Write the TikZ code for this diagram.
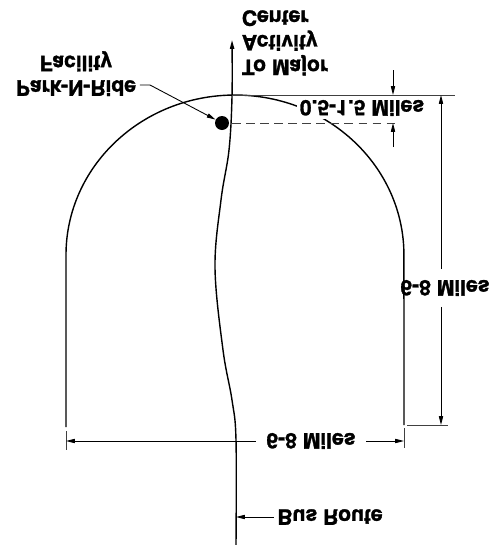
\documentclass[tikz,border=0pt]{standalone}
\usepackage{fontspec}
\setmainfont{TeX Gyre Heros}[BoldFeatures={FakeBold=1.4}]
\usetikzlibrary{arrows.meta, positioning, calc}
\newcommand{\flipv}[1]{\scalebox{1}[-1]{#1}}

\begin{document}
\begin{tikzpicture}[
    x=0.02cm, y=-0.02cm,
    lbl/.style={
        inner sep=2pt,
        font=\fontsize{12}{14}\selectfont\bfseries
    },
    cut/.style={fill=white},
    dim/.style={-{Triangle[length=5pt,width=2.4pt]}, line width=0.5pt},
    ext/.style={line width=0.45pt, black!75},
    edge/.style={line width=0.8pt}
]
\useasboundingbox (0,0) rectangle (498,545);

% --- Bus route ---
\coordinate (routetop) at (232,40);
\coordinate (routebot) at (236,545);
\draw[edge, -{Triangle[length=5pt,width=2.4pt]}] plot[smooth, tension=0.6] coordinates {
    (routebot) (236,440) (232,400) (223,350) (215,268) (221,200) (229,150) (232,97) (routetop)};

% --- Service area ---
\coordinate (archl) at (66,427);
\coordinate (archr) at (404,425);
\draw[edge] (archl) -- (66,255)
    arc[start angle=180, end angle=0, x radius=3.38cm, y radius=3.2cm] -- (archr);

% --- Park-N-Ride ---
\node[circle, fill, inner sep=0pt, minimum size=2.8mm] (pnr) at (222,123) {};
\node[lbl] (pnrlabel) at (76,73)
    {\flipv{\begin{tabular}{@{}c@{}}Park-N-Ride\\Facility\end{tabular}}};
\coordinate (pnrbend) at (150,85);
\draw[dim] (pnrlabel.east |- pnrbend) -- (pnrbend) -- (pnr);

% --- Destination ---
\node[lbl, anchor=west] (dest) at (238,40)
    {\flipv{\begin{tabular}{@{}l@{}}To Major\\Activity\\Center\end{tabular}}};

% --- 0.5-1.5 Miles ---
\coordinate (stop) at (393,95);
\coordinate (sbot) at (393,123);
\coordinate (pdash) at (398,123);
\draw[ext, dash pattern=on 5pt off 3pt] ($(pnr)+(10,0)$) -- (pdash);
\draw[dim] ($(stop)+(0,-25)$) -- (stop);
\draw[dim] ($(sbot)+(0,24)$) -- (sbot);
\node[lbl, cut, inner sep=1.5pt] (sdim) at (362,108) {\flipv{0.5-1.5 Miles}};

% --- 6-8 Miles (vertical) ---
\coordinate (dtop) at (455,95);
\coordinate (dbotin) at (407,425);
\coordinate (dbot) at (448,425);
\draw[ext] (routetop |- dtop) -- (dtop);
\draw[ext] (dbotin) -- (dbot);
\coordinate (hdimtop) at (441,95);
\coordinate (hdimbot) at (441,425);
\node[lbl, inner sep=6pt] (hdim) at (445,288) {\flipv{6-8 Miles}};
\draw[dim] (hdimtop |- hdim.north) -- (hdimtop);
\draw[dim] (hdimbot |- hdim.south) -- (hdimbot);

% --- 6-8 Miles (horizontal) ---
\coordinate (wleft) at (66,441);
\coordinate (wright) at (404,441);
\draw[ext] ($(wleft)+(0,-10)$) -- ($(wleft)+(0,9)$);
\draw[ext] ($(wright)+(0,-13)$) -- ($(wright)+(0,7)$);
\node[lbl, inner sep=6pt] (wdim) at (311,441) {\flipv{6-8 Miles}};
\draw[dim] (wdim.west) -- (wleft);
\draw[dim] (wdim.east) -- (wright);

% --- Bus Route label ---
\node[lbl] (bus) at (330,517) {\flipv{Bus Route}};
\draw[dim] (bus.west) -- (bus.west -| routebot);

\end{tikzpicture}
\end{document}
